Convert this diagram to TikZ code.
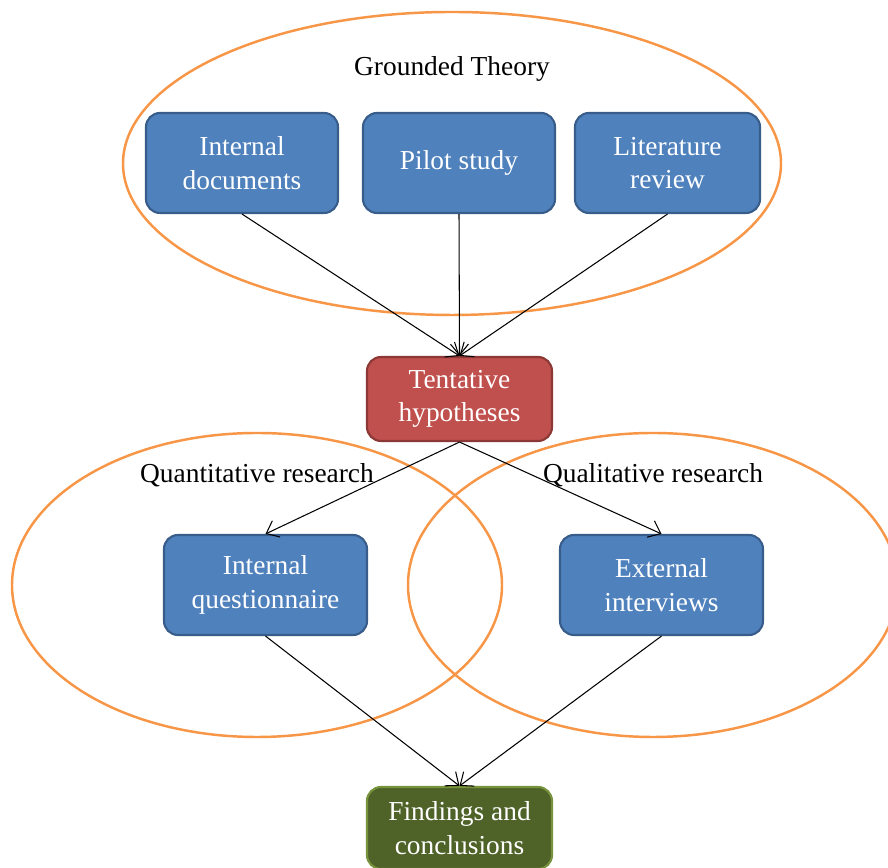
\documentclass[tikz,border=0pt]{standalone}
\usepackage{fontspec}
\setmainfont{Liberation Serif}
\usepackage{tikz}
\usetikzlibrary{arrows.meta, shapes.geometric}

\definecolor{boxblue}{HTML}{4F81BD}
\definecolor{boxblueline}{HTML}{385D8A}
\definecolor{hypred}{HTML}{C0504D}
\definecolor{hypredline}{HTML}{8C3836}
\definecolor{conclgreen}{HTML}{4F6228}
\definecolor{conclgreenline}{HTML}{77933C}
\definecolor{zoneorange}{HTML}{F79646}

\begin{document}
\begin{tikzpicture}[->,
			>={Straight Barb[length=2.2mm, width=3.6mm]},
			font=\fontsize{15.6}{19}\selectfont,
			box/.style={draw=boxblueline, fill=boxblue, line width=1.2pt, rounded corners=0.28cm,
				text=white, align=center, minimum width=3.84cm, minimum height=2cm, inner sep=0pt},
			hyp/.style={box, draw=hypredline, fill=hypred, minimum width=3.7cm, minimum height=1.68cm},
			concl/.style={box, draw=conclgreenline, fill=conclgreen, minimum width=3.7cm, minimum height=1.64cm},
			zone/.style={draw=zoneorange, line width=1.4pt, ellipse},
			link/.style={->, black, line width=0.6pt}]

			\useasboundingbox (0,0) rectangle (17.76,17.36);
			\clip (0,0) rectangle (17.76,17.36);

			% orange areas
			\draw[zone, -] (9.04,14.09) ellipse [x radius=6.58, y radius=3.03];
			\draw[zone, -] (5.14,5.66) ellipse [x radius=4.9, y radius=3.04];
			\draw[zone, -] (13.06,5.66) ellipse [x radius=4.9, y radius=3.04];

			\node (gt) at (9.04,15.98) {Grounded Theory};
			\node (quan) at (5.14,7.86) {Quantitative research};
			\node (qual) at (13.06,7.86) {Qualitative research};

			\node[box] (docs) at (4.84,14.1) {Internal\\documents};
			\node[box] (pilot) at (9.18,14.1) {Pilot study};
			\node[box, minimum width=3.7cm] (lit) at (13.35,14.1) {Literature\\review};
			\node[hyp] (hyp) at (9.19,9.38) {Tentative\\hypotheses};
			\node[box, minimum width=4.06cm] (quest) at (5.31,5.66) {Internal\\questionnaire};
			\node[box, minimum width=4.06cm] (intv) at (13.23,5.66) {External\\interviews};
			\node[concl] (concl) at (9.19,0.8) {Findings and\\conclusions};

			\draw[link] (docs.south) -- (hyp.north);
			\draw[link] (pilot.south) -- (hyp.north);
			\draw[link] (lit.south) -- (hyp.north);
			\draw[link] (hyp.south) -- (quest.north);
			\draw[link] (hyp.south) -- (intv.north);
			\draw[link] (quest.south) -- (concl.north);
			\draw[link] (intv.south) -- (concl.north);
		\end{tikzpicture}
\end{document}
